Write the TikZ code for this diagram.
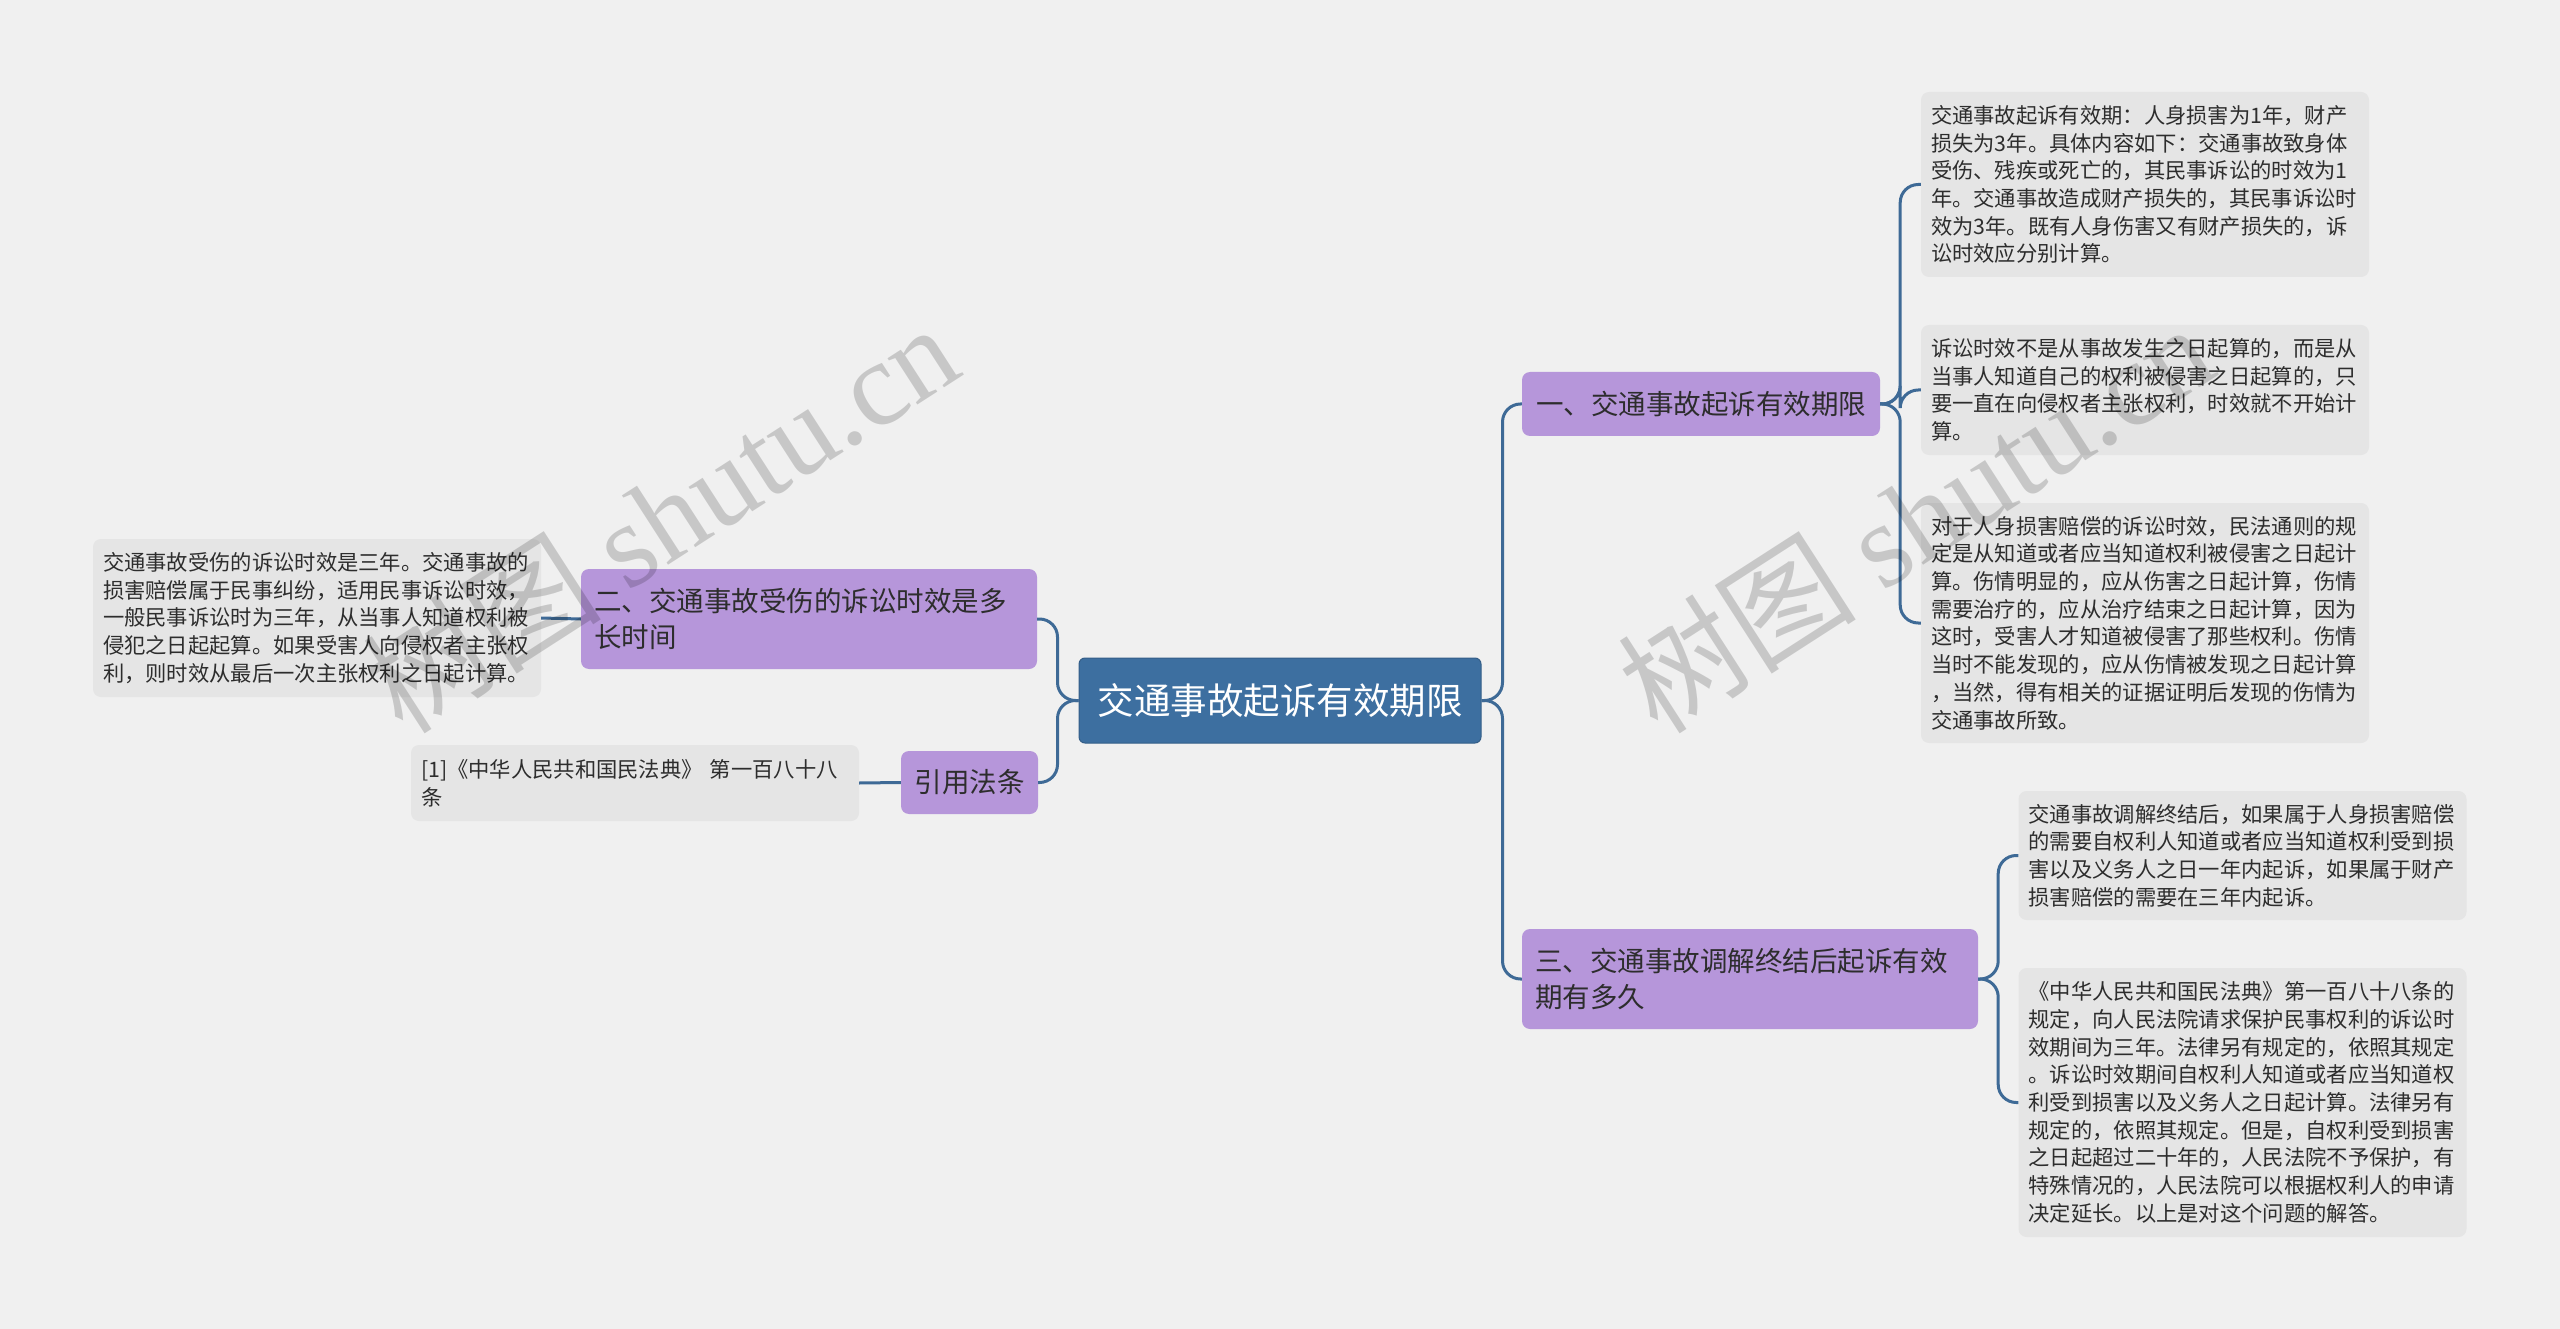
\documentclass[tikz,border=0pt]{standalone}
\usepackage{fontspec}
\setmainfont{Noto Sans CJK SC}
\newfontfamily\wmlatin{Liberation Serif}
\definecolor{bgc}{RGB}{240,240,240}
\definecolor{detailc}{RGB}{229,229,229}
\definecolor{branchc}{RGB}{182,150,218}
\definecolor{rootc}{RGB}{61,111,160}
\definecolor{linec}{RGB}{62,106,150}
\definecolor{txtc}{RGB}{45,45,45}
\begin{document}
\begin{tikzpicture}[x=1pt,y=-1pt,
  conn/.style={draw=linec, line width=3pt, rounded corners=18pt},
  rootbox/.style={fill=rootc, draw=rootc!85!black, line width=1pt, rounded corners=6pt, text=white, font=\fontsize{36.5}{44}\selectfont, minimum width=402pt, minimum height=85pt, inner sep=0pt},
  branchbox/.style={fill=branchc, rounded corners=8pt, text=txtc, font=\fontsize{27.5}{36.5}\selectfont, align=left, inner xsep=13pt, inner ysep=0pt},
  detailbox/.style={fill=detailc, rounded corners=8pt, text=txtc, font=\fontsize{21.3}{27.7}\selectfont, align=left, text width=428pt, inner xsep=10pt, inner ysep=0pt},
  wm/.style={text=black, opacity=0.17, rotate=32.8, font=\fontsize{120}{120}\selectfont, inner sep=0pt}
]
\fill[bgc] (0,0) rectangle (2560,1329);
\useasboundingbox (0,0) rectangle (2560,1329);

% root
\node[rootbox] (root) at (1280,700.5) {交通事故起诉有效期限};

% branches
\node[branchbox, minimum width=358pt, minimum height=64pt] (b1) at (1701,404) {一、交通事故起诉有效期限};
\node[branchbox, text width=430pt, minimum height=100pt] (b3) at (1750,979) {三、交通事故调解终结后起诉有效\\期有多久};
\node[branchbox, text width=430pt, minimum height=100pt] (b2) at (809,619) {二、交通事故受伤的诉讼时效是多\\长时间};
\node[branchbox, minimum width=137pt, minimum height=63pt] (cite) at (969.5,782.5) {引用法条};

% details
\node[detailbox, minimum height=185pt] (d1a) at (2145,184.5) {交通事故起诉有效期：人身损害为1年，财产\\损失为3年。具体内容如下：交通事故致身体\\受伤、残疾或死亡的，其民事诉讼的时效为1\\年。交通事故造成财产损失的，其民事诉讼时\\效为3年。既有人身伤害又有财产损失的，诉\\讼时效应分别计算。};
\node[detailbox, minimum height=130pt] (d1b) at (2145,390) {诉讼时效不是从事故发生之日起算的，而是从\\当事人知道自己的权利被侵害之日起算的，只\\要一直在向侵权者主张权利，时效就不开始计\\算。};
\node[detailbox, minimum height=240pt] (d1c) at (2145,623) {对于人身损害赔偿的诉讼时效，民法通则的规\\定是从知道或者应当知道权利被侵害之日起计\\算。伤情明显的，应从伤害之日起计算，伤情\\需要治疗的，应从治疗结束之日起计算，因为\\这时，受害人才知道被侵害了那些权利。伤情\\当时不能发现的，应从伤情被发现之日起计算\\，当然，得有相关的证据证明后发现的伤情为\\交通事故所致。};
\node[detailbox, minimum height=129pt] (d3a) at (2242.5,855.5) {交通事故调解终结后，如果属于人身损害赔偿\\的需要自权利人知道或者应当知道权利受到损\\害以及义务人之日一年内起诉，如果属于财产\\损害赔偿的需要在三年内起诉。};
\node[detailbox, minimum height=269pt] (d3b) at (2242.5,1102.5) {《中华人民共和国民法典》第一百八十八条的\\规定，向人民法院请求保护民事权利的诉讼时\\效期间为三年。法律另有规定的，依照其规定\\。诉讼时效期间自权利人知道或者应当知道权\\利受到损害以及义务人之日起计算。法律另有\\规定的，依照其规定。但是，自权利受到损害\\之日起超过二十年的，人民法院不予保护，有\\特殊情况的，人民法院可以根据权利人的申请\\决定延长。以上是对这个问题的解答。};
\node[detailbox, minimum height=158pt] (d2) at (317,618) {交通事故受伤的诉讼时效是三年。交通事故的\\损害赔偿属于民事纠纷，适用民事诉讼时效，\\一般民事诉讼时为三年，从当事人知道权利被\\侵犯之日起起算。如果受害人向侵权者主张权\\利，则时效从最后一次主张权利之日起计算。};
\node[detailbox, minimum height=76pt] (dcite) at (635,783) {[1]《中华人民共和国民法典》 第一百八十八\\条};

% connectors
\draw[conn] (root.east) -- ++(21,0) |- (b1.west);
\draw[conn] (root.east) -- ++(21,0) |- (b3.west);
\draw[conn] (root.west) -- ++(-21,0) |- (b2.east);
\draw[conn] (root.west) -- ++(-21,0) |- (cite.east);
\draw[conn] (b1.east) -- ++(20,0) |- (d1a.west);
\draw[conn] (b1.east) -- ++(20,0) |- (d1b.west);
\draw[conn] (b1.east) -- ++(20,0) |- (d1c.west);
\draw[conn] (b3.east) -- ++(20,0) |- (d3a.west);
\draw[conn] (b3.east) -- ++(20,0) |- (d3b.west);
\draw[conn] (b2.west) -- (d2.east);
\draw[conn] (cite.west) -- (dcite.east);

% watermarks
\node[wm] (wm1) at (660,517) {树图 {\wmlatin shutu.cn}};
\node[wm] (wm2) at (1915,517) {树图 {\wmlatin shutu.cn}};
\end{tikzpicture}
\end{document}
